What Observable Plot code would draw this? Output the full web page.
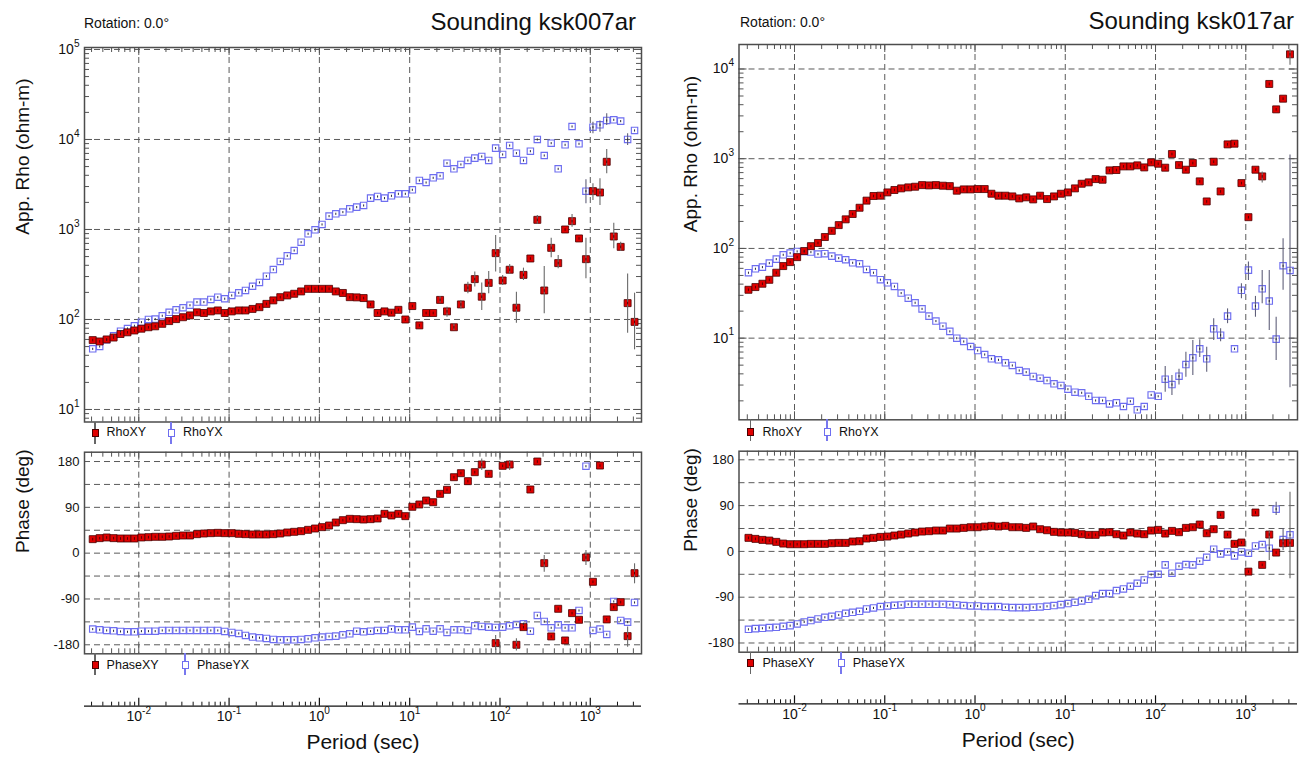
<!DOCTYPE html>
<html><head><meta charset="utf-8">
<script src="https://cdn.jsdelivr.net/npm/d3@7"></script>
<script src="https://cdn.jsdelivr.net/npm/@observablehq/plot@0.6"></script>
<style>
body{margin:0;background:#fff;}
#chart{position:relative;width:1305px;height:759px;overflow:hidden;background:#fff;font-family:"Liberation Sans",Arial,Helvetica,sans-serif;color:#111;}
#chart svg{position:absolute;left:0;top:0;}
.t{position:absolute;white-space:nowrap;line-height:1;}
.sw{position:absolute;box-sizing:border-box;}
</style></head><body><div id="chart"></div>
<script>
// ---------------- data ----------------
const periods = [0.00309,0.00369,0.00441,0.00526,0.00628,0.0075,0.00895,
 0.0107,0.0128,0.0152,0.0182,0.0217,0.0259,0.0309,0.0369,0.0441,0.0526,0.0628,0.075,0.0895,
 0.107,0.128,0.152,0.182,0.217,0.259,0.309,0.369,0.441,0.526,0.628,0.75,0.895,
 1.07,1.28,1.52,1.82,2.17,2.59,3.09,3.69,4.41,5.26,6.28,7.5,8.95,
 10.7,12.8,15.2,18.2,21.7,25.9,30.9,36.9,44.1,52.6,62.8,75,89.5,
 107,128,152,182,217,259,309,369,441,526,628,750,895,
 1070,1280,1520,1820,2170,2590,3090];

const titles = ["Sounding ksk007ar", "Sounding ksk017ar"];
const rotationText = "Rotation: 0.0°";
const rhoLabel = "App. Rho (ohm-m)";
const phaseLabel = "Phase (deg)";
const periodLabel = "Period (sec)";
const rhoLegend = ["RhoXY", "RhoYX"];
const phaseLegend = ["PhaseXY", "PhaseYX"];

const periodDecades = [0.01, 0.1, 1, 10, 100, 1000];
const rhoTicks007 = [10, 100, 1000, 10000, 100000];
const rhoTicks017 = [10, 100, 1000, 10000];
const phaseTicks = [180, 90, 0, -90, -180];
const phaseGrid = [-180, -135, -90, -45, 0, 45, 90, 135, 180];

// sounding ksk007ar
const rhoXY007 = [59,57,60,63,69,72,75.5,79,82,84,
 89.5,96,101,106,111,120,118,123,126,118,
 123,126,126,131,137,149,163,177,185,193,
 205,219,219,219,219,205,197,177,176,173,
 147,118,123,119,128,100,141,86,118,118,
 165,123,82,147,225,281,179,255,546,271,
 357,135,313,476,1280,210,625,423,1000,1238,
 795,468,2667,2576,5650,836,641,152,94];
const rhoYX007 = [47.2,50.1,59.4,65.9,74.2,79.4,85.1,93.4,100,101,
 110,120,128,135,144,156,156,167,177,170,
 185,198,210,234,258,303,359,441,510,584,
 723,896,992,1137,1407,1494,1560,1698,1772,1848,
 2230,2326,2230,2366,2490,2490,2762,3503,3326,3748,
 3948,5455,4718,5277,5843,6207,6476,5843,8017,6812,
 8578,7048,5843,7413,10000,6637,9103,4718,8724,13940,
 8954,2667,13700,14550,16260,16550,16000,10000,12590];
const phsXY007 = [27.5,29.5,30.8,29.5,28.8,28.8,28.8,30.8,31.4,32.1,
 32.1,32.7,34.0,34.7,34.7,37.3,38.6,39.3,39.9,39.3,
 39.3,38.0,37.3,36.7,36.7,36.7,37.3,38.6,40.6,41.9,
 43.2,45.8,48.4,51.1,54.3,60.2,64.8,67.4,66.8,66.1,
 66.8,68.1,77.2,74.0,77.2,72.7,91.0,95.6,103.4,100.1,
 116.5,124.4,149.2,157.1,141.4,159.1,174.1,155.8,-176.7,171.5,
 174.1,-180,-145.3,125.0,180,-19.6,-163.6,-109.3,-171.5,-117.8,
 -130.9,-8.5,-56.3,172.1,-130.2,-106.0,-96.2,-163.0,-39.3];
const phsYX007 = [-149.2,-150.5,-151.8,-152.5,-153.8,-154.5,-154.5,-153.2,-153.2,-153.2,
 -151.8,-151.8,-151.8,-151.8,-151.8,-151.8,-151.8,-151.8,-151.8,-153.8,
 -155.8,-157.7,-161.6,-164.9,-166.2,-167.5,-169.5,-170.2,-170.2,-170.2,
 -169.5,-168.2,-166.2,-164.9,-163.6,-163.0,-160.3,-158.4,-153.2,-154.5,
 -153.2,-151.8,-151.8,-149.2,-150.5,-150.5,-145.3,-153.8,-148.6,-153.2,
 -148.6,-155.8,-150.5,-150.5,-151.8,-142.7,-144.0,-145.3,-145.9,-145.3,
 -142.7,-140.1,-138.7,-153.2,-122.4,-134.2,-146.6,-140.7,-146.6,-146.6,
 -112.6,170.8,-151.8,-149.2,-159.7,-94.9,-132.2,-135.5,-96.9];
// error bars: [period, low, high]
const rhoXYerr007 = [[21.7,152,180],[25.9,106,137],[30.9,75.5,89.5],[36.9,131,163],[44.1,193,260],[52.6,229,336],[62.8,126,254],[75,193,341],[89.5,336,857],[107,239,308],[128,321,408],[152,91,201],[182,271,372],[259,1137,1432],[309,116,388],[369,484,801],[441,366,514],[628,1061,1468],[895,283,801],[1070,2099,3214],[1280,1848,3656],[1520,4160,7744],[1820,610,1175],[2170,574,723],[2590,70.5,321],[3090,46,196]];
const rhoYXerr007 = [[895,1928,3565],[1070,11560,15590],[1280,12000,16000],[1520,14310,19280],[2590,8578,11560]];
const phsXYerr007 = [[62.8,162.3,185],[89.5,-191,-161.6],[128,162.3,182],[152,-192.4,-168.2],[309,-37.3,-4.6],[895,-24.2,5.2],[2590,-184.6,-145.3],[3090,-60.2,-20.9]];
const phsYXerr007 = [];

// sounding ksk017ar
const rhoXY017 = [34.6,37.1,40.4,44.7,53.6,63.6,70.4,80.0,93.4,106,
 115,134,157,182,211,242,284,341,384,387,
 421,448,467,479,487,508,504,508,500,495,
 440,455,455,459,459,407,387,387,380,361,
 371,352,387,355,380,407,421,467,526,545,
 593,583,741,748,821,821,843,800,910,879,
 794,1128,849,754,895,559,334,926,432,1445,
 1470,535,223,754,635,6810,3548,4667,14580];
const rhoYX017 = [53.6,59.3,61.9,68.6,76.0,84.9,88.7,92.6,92.6,91.0,
 86.5,87.3,82.1,78.0,74.8,69.2,67.5,58.3,53.6,44.8,
 41.4,37.7,31.8,27.9,24.8,21.2,17.6,15.5,13.6,11.9,
 10.0,9.18,8.07,7.28,6.57,5.88,5.73,5.31,4.96,4.36,
 4.18,3.74,3.58,3.37,3.10,2.97,2.70,2.50,2.46,2.25,
 2.02,2.02,1.85,1.90,1.73,1.98,1.59,1.73,2.33,2.25,
 3.49,3.04,3.77,5.08,6.04,7.61,5.88,12.7,10.8,17.6,
 7.61,34.1,57.3,22.8,35.5,25.9,9.75,64.1,56.9];
const phsXY017 = [26.6,24.6,22.6,21.3,18.7,15.4,14.1,14.1,14.1,14.8,
 14.8,14.8,16.1,16.7,16.7,19.4,20.0,25.3,26.6,28.5,
 29.2,31.2,33.1,35.1,37.1,39.0,39.7,41.0,41.0,44.9,
 44.9,46.2,47.5,47.5,48.9,50.2,48.9,50.2,47.5,47.5,
 46.2,48.9,43.6,41.6,38.4,37.1,37.1,36.4,33.8,32.5,
 32.5,37.1,37.7,33.8,31.2,37.1,35.1,33.8,41.0,42.3,
 35.1,40.3,37.7,46.2,47.5,52.8,35.7,43.6,71.8,33.1,
 14.8,17.4,-39.7,76.4,-26.5,33.1,-2.3,16.1,16.7];
const phsYX017 = [-153.1,-151.8,-151.1,-149.8,-149.2,-147.2,-145.9,-142.6,-138.7,-136.0,
 -132.8,-129.5,-127.5,-124.9,-121.6,-119.7,-117.7,-113.1,-111.1,-108.5,
 -107.2,-105.9,-105.2,-103.9,-103.9,-103.9,-103.9,-103.9,-103.9,-104.6,
 -105.2,-106.5,-107.2,-107.2,-108.5,-108.5,-108.5,-109.8,-110.5,-110.5,
 -110.5,-109.8,-109.2,-107.9,-106.5,-104.6,-102.6,-100.0,-97.4,-94.1,
 -86.9,-82.9,-82.9,-77.0,-73.8,-68.5,-62.6,-56.1,-45.6,-44.9,
 -26.5,-42.9,-29.2,-25.9,-26.5,-19.3,-11.5,4.3,-4.9,-1.0,
 -8.8,-1.0,-3.6,10.8,13.4,6.2,83.0,23.3,32.5];
const rhoXYerr017 = [[1520,535,710],[3090,11000,16500]];
const rhoYXerr017 = [[128,2.5,4.83],[152,2.3,3.84],[182,3.0,4.5],[217,3.67,6.98],[259,3.84,9.42],[309,6.1,9.6],[369,4.18,7.94],[441,9.42,16.4],[526,9.1,12.7],[628,14.5,21.2],[895,27.5,40.4],[1070,44,70.5],[1280,17.1,29.2],[1520,24.2,56.9],[1820,12.2,56.9],[2170,5.64,17.1],[2590,34.1,128],[3090,2.8,1100]];
const phsXYerr017 = [[1820,-18,40],[3090,-54,116]];
const phsYXerr017 = [[2170,70.5,96.7],[2590,1.6,44.3]];

// ---------------- layout & style ----------------
const PAGE_W = 1305, PAGE_H = 759;
const FONT = "'Liberation Sans', Arial, Helvetica, sans-serif";
const RED = "#e00000", RED_EDGE = "#4a0000", BLUE = "#6e6ef0";
const layout = [
  {x0: 84, x1: 641, xdom: [0.002506, 3690], rho: {y0: 47, y1: 421.5, dom: [7.26, 105200]},
   phs: {y0: 451.7, y1: 653.3, dom: [-197.7, 198.3]}, axisY: 705.7, labelDx: -62,
   titleRight: 636, titleY: 22, rotX: 84, rotY: 23,
   rhoLeg: {y: 432.5, mx: [95, 171], tx: [106.6, 183]}, phsLeg: {y: 665, mx: [95, 185], tx: [106.6, 197]}},
  {x0: 738.5, x1: 1297, xdom: [0.002427, 3741], rho: {y0: 44, y1: 419.3, dom: [1.23, 18750]},
   phs: {y0: 450.7, y1: 651.7, dom: [-198.1, 196.9]}, axisY: 703.3, labelDx: -48.5,
   titleRight: 1294, titleY: 21, rotX: 740, rotY: 22,
   rhoLeg: {y: 431.7, mx: [750.8, 827], tx: [762.5, 839]}, phsLeg: {y: 663.3, mx: [750.8, 841], tx: [762.5, 852.8]}}
];

const sq = {draw(ctx, size) {const s = Math.sqrt(size) / 2; ctx.moveTo(-s, -s); ctx.lineTo(s, -s); ctx.lineTo(s, s); ctx.lineTo(-s, s); ctx.closePath();}};
const mid = {draw(ctx, size) {const s = Math.sqrt(size) / 2; ctx.moveTo(0, -s); ctx.lineTo(0, s);}};
const gridStyle = {stroke: "#5a5a5a", strokeOpacity: 1, strokeWidth: 1, strokeDasharray: "6,4"};
const tickStyle = {stroke: "#555", strokeWidth: 1};
const plotStyle = {background: "transparent", fontFamily: FONT, fontSize: "13px", color: "#111", overflow: "visible"};
const expFmt = d => "10^" + Math.round(Math.log10(d));
const isDecade = t => Math.abs(Math.log10(t) - Math.round(Math.log10(t))) < 1e-6;
const minorOf = dom => d3.scaleLog().domain(dom).ticks().filter(t => !isDecade(t));
const majorOf = dom => d3.scaleLog().domain(dom).ticks().filter(isDecade);
const rows = s => periods.map((p, i) => ({p, v: s[i]})).filter(d => d.v != null);

function seriesMarks(xy, yx, exy, eyx) {
  const A = rows(xy), B = rows(yx);
  return [
    Plot.dot(B, {x: "p", y: "v", symbol: sq, r: 3.6, fill: "none", stroke: BLUE, strokeWidth: 1.15}),
    Plot.dot(A, {x: "p", y: "v", symbol: sq, r: 3.95, fill: RED, stroke: RED_EDGE, strokeWidth: 0.8}),
    Plot.ruleX(eyx, {x: d => d[0], y1: d => d[1], y2: d => d[2], stroke: "#60607a", strokeWidth: 1.1}),
    Plot.ruleX(exy, {x: d => d[0], y1: d => d[1], y2: d => d[2], stroke: "#6a6a6a", strokeWidth: 1.1}),
    Plot.dot(B, {x: "p", y: "v", symbol: mid, r: 1.2, stroke: "#2a2a3a", strokeWidth: 1}),
    Plot.dot(A, {x: "p", y: "v", symbol: mid, r: 1.5, stroke: "#5a0000", strokeWidth: 1})
  ];
}

function frameTicksX(xdom, H) {
  const mn = minorOf(xdom), mj = majorOf(xdom);
  return [
    Plot.ruleX(mn, {...tickStyle, insetTop: H - 5}), Plot.ruleX(mn, {...tickStyle, insetBottom: H - 5}),
    Plot.ruleX(mj, {...tickStyle, insetTop: H - 8}), Plot.ruleX(mj, {...tickStyle, insetBottom: H - 8})
  ];
}

function rhoPanel(c, xy, yx, exy, eyx, yTicks) {
  const W = c.x1 - c.x0, H = c.rho.y1 - c.rho.y0;
  const mnY = minorOf(c.rho.dom), mjY = majorOf(c.rho.dom);
  return Plot.plot({
    width: PAGE_W, height: PAGE_H,
    marginLeft: c.x0, marginRight: PAGE_W - c.x1, marginTop: c.rho.y0, marginBottom: PAGE_H - c.rho.y1,
    x: {type: "log", domain: c.xdom, axis: null},
    y: {type: "log", domain: c.rho.dom, axis: null},
    style: plotStyle,
    marks: [
      Plot.gridX(periodDecades, gridStyle),
      Plot.gridY(mjY, gridStyle),
      ...frameTicksX(c.xdom, H),
      Plot.ruleY(mnY, {...tickStyle, insetRight: W - 5}), Plot.ruleY(mnY, {...tickStyle, insetLeft: W - 5}),
      Plot.ruleY(mjY, {...tickStyle, insetRight: W - 8}), Plot.ruleY(mjY, {...tickStyle, insetLeft: W - 8}),
      Plot.frame({stroke: "#4d4d4d", strokeWidth: 1.5}),
      Plot.axisY(yTicks, {anchor: "left", tickSize: 0, tickPadding: 5, tickFormat: expFmt, fontSize: 14, label: null}),
      Plot.text([rhoLabel], {text: d => d, frameAnchor: "left", dx: c.labelDx, rotate: -90, fontSize: 19}),
      ...seriesMarks(xy, yx, exy, eyx)
    ]
  });
}

function phasePanel(c, xy, yx, exy, eyx) {
  const H = c.phs.y1 - c.phs.y0;
  return Plot.plot({
    width: PAGE_W, height: PAGE_H,
    marginLeft: c.x0, marginRight: PAGE_W - c.x1, marginTop: c.phs.y0, marginBottom: PAGE_H - c.phs.y1,
    x: {type: "log", domain: c.xdom, axis: null},
    y: {domain: c.phs.dom, axis: null},
    style: plotStyle,
    marks: [
      Plot.gridX(periodDecades, gridStyle),
      Plot.gridY(phaseGrid, gridStyle),
      ...frameTicksX(c.xdom, H),
      Plot.frame({stroke: "#4d4d4d", strokeWidth: 1.5}),
      Plot.axisY(phaseTicks, {anchor: "left", tickSize: 0, tickPadding: 5, tickFormat: d => String(d), fontSize: 13, label: null}),
      Plot.text([phaseLabel], {text: d => d, frameAnchor: "left", dx: c.labelDx, rotate: -90, fontSize: 19}),
      ...seriesMarks(xy, yx, exy, eyx)
    ]
  });
}

function periodAxis(c) {
  const mn = minorOf(c.xdom), mj = majorOf(c.xdom);
  return Plot.plot({
    width: PAGE_W, height: PAGE_H,
    marginLeft: c.x0, marginRight: PAGE_W - c.x1, marginTop: c.axisY - 8, marginBottom: PAGE_H - c.axisY,
    x: {type: "log", domain: c.xdom, axis: null},
    y: {domain: [0, 1], axis: null},
    style: plotStyle,
    marks: [
      Plot.ruleY([0], {stroke: "#111", strokeWidth: 1.3}),
      Plot.ruleX(mj, {stroke: "#111", strokeWidth: 1.2}),
      Plot.ruleX(mn, {stroke: "#111", strokeWidth: 1, insetTop: 4}),
      Plot.axisX(periodDecades, {anchor: "bottom", tickSize: 0, tickPadding: 5, tickFormat: expFmt, fontSize: 14, label: null}),
      Plot.text([periodLabel], {text: d => d, frameAnchor: "bottom", dy: 43, fontSize: 21})
    ]
  });
}

function supFix(svg) {
  svg.querySelectorAll("text").forEach(t => {
    const m = /^10\^(-?\d+)$/.exec(t.textContent);
    if (!m) return;
    t.textContent = "10";
    const s = document.createElementNS("http://www.w3.org/2000/svg", "tspan");
    s.setAttribute("dy", "-0.72em");
    s.setAttribute("font-size", "0.72em");
    s.textContent = m[1];
    t.appendChild(s);
  });
  return svg;
}

const chart = document.getElementById("chart");
function addText(txt, x, yc, size, align) {
  const d = document.createElement("div");
  d.className = "t";
  d.textContent = txt;
  d.style.fontSize = size + "px";
  d.style.top = (yc - 0.49 * size) + "px";
  if (align === "right") d.style.right = (PAGE_W - x) + "px"; else d.style.left = x + "px";
  chart.appendChild(d);
}
function addSwatch(kind, mx, yc, lineTop) {
  const line = document.createElement("div");
  line.className = "sw";
  Object.assign(line.style, {left: (mx - 0.6) + "px", top: lineTop + "px", width: "1.2px", height: "22px",
    background: kind === "xy" ? "#666" : "#7878ee"});
  chart.appendChild(line);
  const box = document.createElement("div");
  box.className = "sw";
  Object.assign(box.style, {left: (mx - 3.5) + "px", top: (yc - 4) + "px", width: "7px", height: "8px"});
  if (kind === "xy") Object.assign(box.style, {background: RED, border: "0.8px solid " + RED_EDGE});
  else Object.assign(box.style, {background: "#fff", border: "1.2px solid " + BLUE});
  chart.appendChild(box);
}

const sets = [
  {rxy: rhoXY007, ryx: rhoYX007, pxy: phsXY007, pyx: phsYX007, erxy: rhoXYerr007, eryx: rhoYXerr007, epxy: phsXYerr007, epyx: phsYXerr007, ticks: rhoTicks007},
  {rxy: rhoXY017, ryx: rhoYX017, pxy: phsXY017, pyx: phsYX017, erxy: rhoXYerr017, eryx: rhoYXerr017, epxy: phsXYerr017, epyx: phsYXerr017, ticks: rhoTicks017}
];

layout.forEach((c, k) => {
  const s = sets[k];
  chart.appendChild(supFix(rhoPanel(c, s.rxy, s.ryx, s.erxy, s.eryx, s.ticks)));
  chart.appendChild(supFix(phasePanel(c, s.pxy, s.pyx, s.epxy, s.epyx)));
  chart.appendChild(supFix(periodAxis(c)));
  addText(titles[k], c.titleRight, c.titleY, 24, "right");
  addText(rotationText, c.rotX, c.rotY, 14, "left");
  ["xy", "yx"].forEach((kind, j) => {
    addSwatch(kind, c.rhoLeg.mx[j], c.rhoLeg.y, c.rho.y1);
    addText(rhoLegend[j], c.rhoLeg.tx[j], c.rhoLeg.y, 12.5, "left");
    addSwatch(kind, c.phsLeg.mx[j], c.phsLeg.y, c.phs.y1);
    addText(phaseLegend[j], c.phsLeg.tx[j], c.phsLeg.y, 12.5, "left");
  });
});
</script></body></html>
